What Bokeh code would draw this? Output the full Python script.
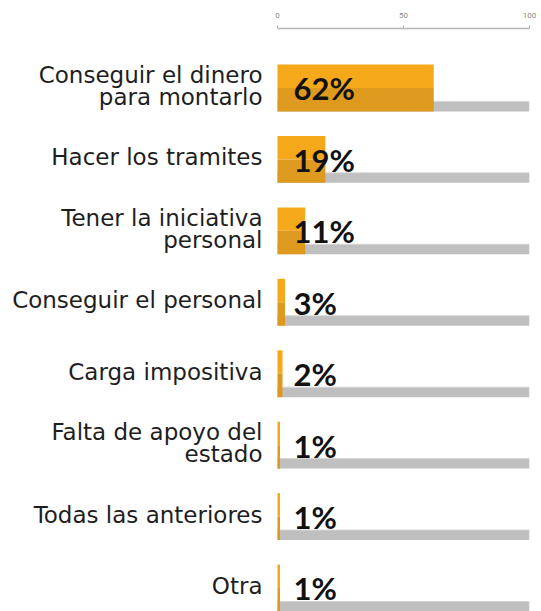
from bokeh.plotting import figure
from bokeh.models import Range1d, LinearAxis, FixedTicker, ColumnDataSource
from bokeh.core.properties import value
from bokeh.embed import file_html
from bokeh.resources import INLINE

categories = ["Conseguir el dinero\npara montarlo", "Hacer los tramites",
              "Tener la iniciativa\npersonal", "Conseguir el personal",
              "Carga impositiva", "Falta de apoyo del\nestado",
              "Todas las anteriores", "Otra"]
values = [62, 19, 11, 3, 2, 1, 1, 1]
full_scale = [100] * len(values)
tick_values = [0, 50, 100]

rows = list(range(len(categories)))
half = 0.328
grey_h = 0.14

src = ColumnDataSource(dict(
    row=rows,
    cat=categories,
    val=values,
    full=full_scale,
    zero=[0] * len(values),
    top=[r - half for r in rows],
    mid=[r for r in rows],
    bot=[r + half for r in rows],
    gtop=[r + half - grey_h for r in rows],
    pct=[f"{v}%" for v in values],
))

p = figure(width=541, height=611, output_backend="svg", toolbar_location=None,
           x_range=Range1d(-109.9, 100), y_range=Range1d(7.328, -0.832),
           x_axis_location=None, y_axis_location=None,
           min_border_left=0, min_border_right=12, min_border_top=28, min_border_bottom=0)
p.outline_line_color = None
p.xgrid.visible = False
p.ygrid.visible = False

# grey full-scale track
p.quad(left="zero", right="full", top="gtop", bottom="bot", source=src,
       fill_color="#bfbfbf", line_color=None)
p.segment(x0="zero", x1="full", y0="gtop", y1="gtop", source=src,
          line_color="#d6d6d6", line_width=1)
# orange bar, two tones
p.quad(left="zero", right="val", top="top", bottom="mid", source=src,
       fill_color="#f6a81b", line_color=None)
p.quad(left="zero", right="val", top="mid", bottom="bot", source=src,
       fill_color="#de991f", line_color=None)

# category labels
p.text(x="zero", y="row", text="cat", source=src, x_offset=-15, y_offset=-2,
       text_align="right", text_baseline="middle", text_font=value("DejaVu Sans"),
       text_font_size="23px", text_color="#1e1e1e", text_line_height=0.87)

# percentage labels
p.text(x="zero", y="gtop", text="pct", source=src, x_offset=16, y_offset=-13,
       text_align="left", text_baseline="alphabetic", text_font=value("Lato"),
       text_font_style="bold", text_font_size="31px", text_color="#111111")

ax = LinearAxis(ticker=FixedTicker(ticks=tick_values), bounds=(0, 100))
ax.axis_line_color = "#b5b5b5"
ax.axis_line_width = 1.5
ax.major_tick_line_color = "#b5b5b5"
ax.major_tick_out = 3
ax.major_tick_in = 0
ax.minor_tick_out = 0
ax.minor_tick_in = 0
ax.major_label_standoff = 8
ax.major_label_text_font = "Roboto"
ax.major_label_text_font_size = "8px"
ax.major_label_text_color = "#8a8a8a"
p.add_layout(ax, "above")

open("out.html", "w").write(file_html(p, INLINE))
